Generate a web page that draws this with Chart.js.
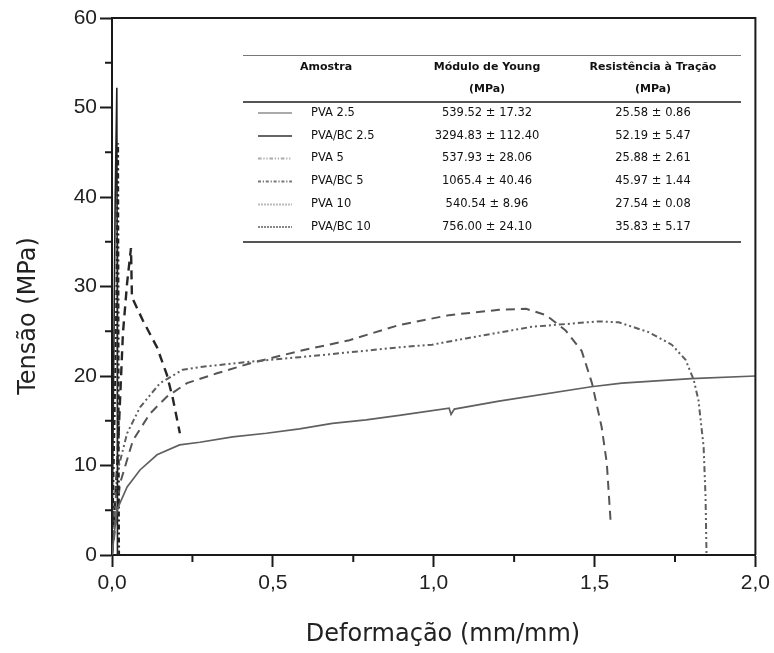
<!DOCTYPE html>
<html lang="pt">
<head>
<meta charset="UTF-8">
<title>Tensão x Deformação</title>
<script src="https://cdn.jsdelivr.net/npm/chart.js"></script>
<style>
  body { margin: 0; background: #fff; }
  #grafico { display: block; }
</style>
</head>
<body>
<canvas id="grafico" width="774" height="653"></canvas>
<script>
// curvas tensao x deformacao
const pva25X = [0, 0.015, 0.047, 0.087, 0.14, 0.21, 0.273, 0.375, 0.48, 0.583, 0.685, 0.79, 0.893, 1.048, 1.054, 1.064, 1.203, 1.49, 1.585, 1.80, 2.0];
const pva25Y = [0, 5.0, 7.6, 9.5, 11.2, 12.3, 12.6, 13.2, 13.6, 14.1, 14.7, 15.1, 15.6, 16.4, 15.7, 16.3, 17.2, 18.8, 19.2, 19.7, 20.0];

const pvabc25X = [0, 0.005, 0.010, 0.015, 0.016, 0.017];
const pvabc25Y = [0, 20, 40, 52.2, 35, 0];

const pva5X = [0, 0.008, 0.016, 0.047, 0.087, 0.149, 0.22, 0.273, 0.428, 0.583, 0.893, 0.995, 1.10, 1.305, 1.513, 1.575, 1.668, 1.74, 1.783, 1.808, 1.823, 1.839, 1.845, 1.848];
const pva5Y = [0, 4.0, 9.2, 13.6, 16.5, 19.2, 20.7, 21.0, 21.6, 22.1, 23.2, 23.5, 24.2, 25.5, 26.1, 26.0, 24.9, 23.5, 21.8, 19.6, 17.3, 12.1, 6.5, 0.2];

const pvabc5X = [0, 0.008, 0.014, 0.019, 0.020, 0.021, 0.022];
const pvabc5Y = [0, 15, 30, 46.0, 30, 10, 0];

const pva10X = [0, 0.010, 0.025, 0.065, 0.118, 0.171, 0.233, 0.326, 0.428, 0.583, 0.738, 0.893, 1.048, 1.203, 1.287, 1.349, 1.41, 1.46, 1.492, 1.522, 1.538, 1.55];
const pva10Y = [0, 3.0, 8.0, 12.8, 15.8, 17.7, 19.2, 20.3, 21.4, 22.8, 24.0, 25.7, 26.8, 27.4, 27.5, 26.8, 25.1, 22.8, 19.2, 14.3, 10.3, 3.7];

const pvabc10X = [0, 0.003, 0.016, 0.025, 0.034, 0.047, 0.059, 0.062, 0.096, 0.14, 0.171, 0.189, 0.211];
const pvabc10Y = [0, 2.4, 9.8, 17.3, 24.8, 30.4, 34.3, 28.8, 26.2, 23.2, 20.1, 17.5, 13.6];

// tabela dentro do grafico
const amostras = ["PVA 2.5", "PVA/BC 2.5", "PVA 5", "PVA/BC 5", "PVA 10", "PVA/BC 10"];
const moduloYoung = ["539.52 ± 17.32", "3294.83 ± 112.40", "537.93 ± 28.06", "1065.4 ± 40.46", "540.54 ± 8.96", "756.00 ± 24.10"];
const resistencia = ["25.58 ± 0.86", "52.19 ± 5.47", "25.88 ± 2.61", "45.97 ± 1.44", "27.54 ± 0.08", "35.83 ± 5.17"];

function pontos(xs, ys) {
  return xs.map((x, i) => ({ x: x, y: ys[i] }));
}

const estilos = [
  { cor: "#606060", larg: 1.7, dash: [], amostraCor: "#aaa" },
  { cor: "#222", larg: 1.6, dash: [], amostraCor: "#666" },
  { cor: "#5e5e5e", larg: 2, dash: [6, 3, 2, 3, 2, 3], amostraCor: "#aaa" },
  { cor: "#222", larg: 2, dash: [5, 3, 2, 3], amostraCor: "#777" },
  { cor: "#555", larg: 2, dash: [9, 6], amostraCor: "#bbb" },
  { cor: "#262626", larg: 2.4, dash: [9, 6], amostraCor: "#888" }
];

const series = [
  pontos(pva25X, pva25Y),
  pontos(pvabc25X, pvabc25Y),
  pontos(pva5X, pva5Y),
  pontos(pvabc5X, pvabc5Y),
  pontos(pva10X, pva10Y),
  pontos(pvabc10X, pvabc10Y)
];

const datasets = series.map((d, i) => ({
  label: amostras[i],
  data: d,
  borderColor: estilos[i].cor,
  borderWidth: estilos[i].larg,
  borderDash: estilos[i].dash,
  pointRadius: 0,
  tension: 0,
  fill: false
}));

// moldura, ticks menores, titulos dos eixos e tabela
const extras = {
  id: "extras",
  afterDraw(chart) {
    const ctx = chart.ctx;
    const a = chart.chartArea;
    const sx = chart.scales.x, sy = chart.scales.y;
    ctx.save();
    ctx.strokeStyle = "#1a1a1a";
    ctx.lineWidth = 2;
    ctx.beginPath();
    ctx.moveTo(a.left, a.top);
    ctx.lineTo(a.right, a.top);
    ctx.lineTo(a.right, a.bottom);
    ctx.stroke();

    // ticks menores
    [5, 15, 25, 35, 45, 55].forEach(v => {
      const py = sy.getPixelForValue(v);
      ctx.beginPath(); ctx.moveTo(a.left - 7, py); ctx.lineTo(a.left, py); ctx.stroke();
    });
    [0.25, 0.75, 1.25, 1.75].forEach(v => {
      const px = sx.getPixelForValue(v);
      ctx.beginPath(); ctx.moveTo(px, a.bottom); ctx.lineTo(px, a.bottom + 7); ctx.stroke();
    });

    // titulos
    ctx.fillStyle = "#222";
    ctx.textAlign = "center";
    ctx.textBaseline = "middle";
    ctx.font = "24px 'DejaVu Sans'";
    ctx.fillText("Deformação (mm/mm)", 443, 635);
    ctx.save();
    ctx.translate(29, 316);
    ctx.rotate(-Math.PI / 2);
    ctx.fillText("Tensão (MPa)", 0, 0);
    ctx.restore();

    // tabela
    const x0 = 243, x1 = 741;
    ctx.strokeStyle = "#777";
    ctx.lineWidth = 1;
    ctx.beginPath(); ctx.moveTo(x0, 55.5); ctx.lineTo(x1, 55.5); ctx.stroke();
    ctx.strokeStyle = "#555";
    ctx.lineWidth = 2;
    ctx.beginPath(); ctx.moveTo(x0, 102); ctx.lineTo(x1, 102); ctx.stroke();
    ctx.beginPath(); ctx.moveTo(x0, 242); ctx.lineTo(x1, 242); ctx.stroke();

    ctx.fillStyle = "#111";
    ctx.font = "bold 11px 'DejaVu Sans'";
    ctx.fillText("Amostra", 326, 67);
    ctx.fillText("Módulo de Young", 487, 67);
    ctx.fillText("(MPa)", 487, 89);
    ctx.fillText("Resistência à Tração", 653, 67);
    ctx.fillText("(MPa)", 653, 89);

    ctx.font = "11.5px 'DejaVu Sans'";
    const linhas = [113, 136, 158.5, 181.5, 204.5, 227];
    amostras.forEach((nome, i) => {
      const py = linhas[i];
      ctx.strokeStyle = estilos[i].amostraCor;
      ctx.lineWidth = 2;
      ctx.setLineDash(i >= 4 ? [2, 1] : estilos[i].dash.map(v => v * 0.6));
      ctx.beginPath(); ctx.moveTo(258, py); ctx.lineTo(292, py); ctx.stroke();
      ctx.setLineDash([]);
      ctx.textAlign = "left";
      ctx.fillText(nome, 311, py);
      ctx.textAlign = "center";
      ctx.fillText(moduloYoung[i], 487, py);
      ctx.fillText(resistencia[i], 653, py);
    });
    ctx.restore();
  }
};

const ctx = document.getElementById("grafico").getContext("2d");
new Chart(ctx, {
  type: "line",
  data: { datasets: datasets },
  options: {
    responsive: false,
    animation: false,
    layout: { padding: { top: 18, right: 16, left: 0, bottom: 0 } },
    plugins: { legend: { display: false }, tooltip: { enabled: false } },
    scales: {
      x: {
        type: "linear",
        min: 0,
        max: 2,
        afterFit: s => { s.height = 98; },
        border: { display: true, color: "#1a1a1a", width: 2 },
        grid: {
          drawOnChartArea: false,
          tickLength: 12,
          tickWidth: 2,
          tickColor: c => (Math.abs(c.tick.value * 2 - Math.round(c.tick.value * 2)) < 1e-6 ? "#1a1a1a" : "rgba(0,0,0,0)")
        },
        ticks: {
          stepSize: 0.25,
          padding: 4,
          color: "#222",
          font: { family: "'Liberation Sans', Arial", size: 21 },
          maxRotation: 0,
          callback: v => (Math.abs(v * 2 - Math.round(v * 2)) < 1e-6 ? v.toFixed(1).replace(".", ",") : "")
        },
        title: { display: false }
      },
      y: {
        min: 0,
        max: 60,
        afterFit: s => { s.width = 112; },
        border: { display: true, color: "#1a1a1a", width: 2 },
        grid: {
          drawOnChartArea: false,
          tickLength: 12,
          tickWidth: 2,
          tickColor: c => (c.tick.value % 10 === 0 ? "#1a1a1a" : "rgba(0,0,0,0)")
        },
        ticks: {
          stepSize: 5,
          padding: 3,
          color: "#222",
          font: { family: "'Liberation Sans', Arial", size: 21 },
          callback: v => (v % 10 === 0 ? String(v) : "")
        },
        title: { display: false }
      }
    }
  },
  plugins: [extras]
});
</script>
</body>
</html>
